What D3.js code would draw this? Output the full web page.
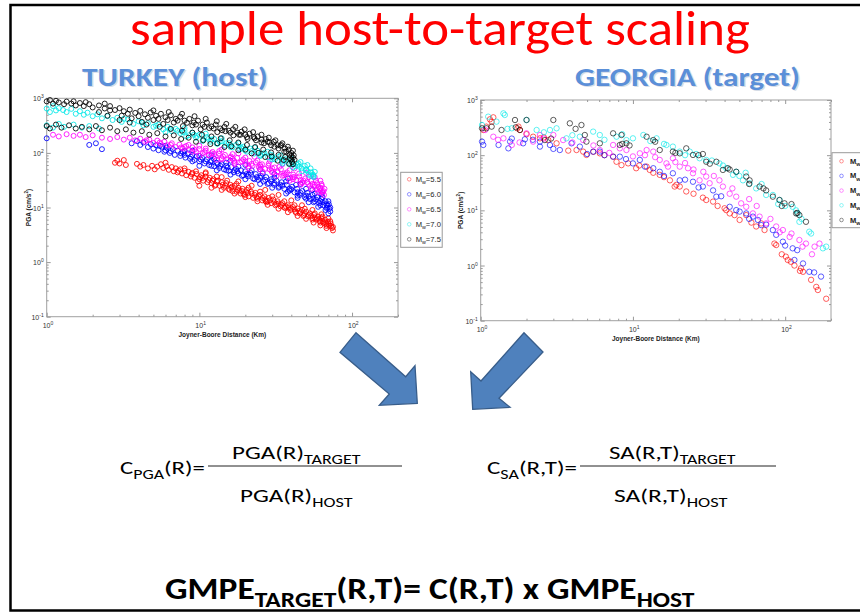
<!DOCTYPE html>
<html><head><meta charset="utf-8">
<script src="https://cdn.jsdelivr.net/npm/d3@7"></script>
<style>body{margin:0;background:#fff}svg{display:block}</style>
</head><body><svg id="c" width="860" height="612"></svg>
<script>
// ---------- DATA ----------
const magnitudes = ["5.5","6.0","6.5","7.0","7.5"];
const seriesColors = ["#ff0000","#0000ff","#ff00ff","#00e8e8","#000000"];
const xTickValues = [1,10,100];
const yTickValues = [0.1,1,10,100,1000];
const xTickExp = ["0","1","2"];
const yTickExp = ["-1","0","1","2","3"];

// TURKEY (host) : [Joyner-Boore distance km, PGA cm/s2]
const turkeyMw55 = [[2.8,66],[2.9,72],[3.0,64],[3.2,74],[3.3,60],[3.9,63],[4.1,56],[4.3,60],[4.6,52],[4.9,58],[5.1,50],[5.3,56],[5.6,62],[5.8,53],[6.0,66],[6.1,57],[6.3,49],[6.6,55],[6.8,46],[7.0,52],[7.2,44],[7.5,50],[7.7,42],[8.0,47],[8.2,39],[8.5,45],[8.8,37],[9.0,43],[9.3,35],[9.6,41],[10,33],[10.3,39],[10.6,31],[11,37],[11.3,29],[11.7,35],[12,28],[12.4,33],[12.8,26],[13.2,31],[13.6,25],[14,29],[14.5,23],[15,28],[15.5,22],[16,26],[16.5,20],[17,25],[17.5,19.5],[18,23],[18.6,18],[19.2,22],[19.8,17],[20.5,21],[21,16],[21.8,19.5],[22.5,15],[23.3,18.5],[24,14.5],[25,17],[25.8,13.5],[26.7,16],[27.5,12.5],[28.5,15],[29.5,12],[30.5,14],[31.5,11],[32.5,13],[34,10.5],[35,12],[36.5,9.8],[38,11],[39.5,9],[41,10.2],[42.5,8.4],[44,9.6],[45.5,7.8],[47,9],[48.5,7.3],[50,8.4],[51.5,6.9],[53,7.8],[55,6.4],[56.5,7.3],[58,6],[60,6.8],[61.5,5.6],[63,6.4],[65,5.2],[66.5,6],[68,4.9],[69.5,5.5],[71,4.6],[72.5,5.1],[74,4.2],[75,3.8],[10.5,35],[12.2,31],[14.2,26],[16.2,23],[18.3,20.5],[20.2,19],[23,17],[26,15],[29,13.5],[33,11.8],[37,10.4],[40,9.6],[45,8.6],[49,7.8],[54,7],[59,6.3],[64,5.7],[70,5],
  [7.3,47],[8.9,41],[10.1,36],[11.5,32],[13,30],[14.8,25],[16.3,24],[17.8,21],[19,20],[20.8,18.5],[22,18],[24.5,16],[27,14],[28,13],[31,12.5],[34.5,11.2],[38.5,10],[42,9.2],[46,8.2],[52,7.3],[57,6.6],[61,6],[67,5.3],[73,4.6],[9.8,30],[12.6,25],[15.8,21],[19.5,17.5],[23.7,15.5],[27.2,13],[32,11.5],[36,10],[43,8],[48,7],[55,6],[62,5.3],[68,4.6],[75,4.4],[8,52],[9.5,46],[11,42],[13,37],[15.2,31],[17.5,27],[21,23],[25,19.5],[30,16],[36,13],[42,11],[49,9.5],[57,7.8],[64,6.8],[72,5.6],
  [10,25],[12,23],[14,21],[17,18],[20,15.5],[24,13],[28,11.2],[33,9.5],[38,8.2],[44,7],[50,6.2],[56,5.3],[62,4.7],[68,4.2],[11,44],[14,36],[18,30],[22,25],[27,21],[33,17],[40,13.5],[47,11],[55,9],[63,7.5],[70,6.3]];
const turkeyMw60 = [[1.0,185],[1.9,140],[2.3,117],[2.1,150],[3.6,150],[3.9,165],[4.1,140],[4.3,155],[4.6,128],[4.8,145],[5.0,120],[5.2,138],[5.4,112],[5.7,130],[5.9,105],[6.1,125],[6.4,100],[6.7,118],[6.9,92],[7.2,110],[7.5,88],[7.8,104],[8.1,82],[8.4,98],[8.7,78],[9.0,92],[9.3,74],[9.6,86],[10,70],[10.4,82],[10.8,64],[11.2,76],[11.6,60],[12,72],[12.5,57],[13,66],[13.5,53],[14,62],[14.5,50],[15,58],[15.6,47],[16.2,55],[16.8,44],[17.4,51],[18,42],[18.7,48],[19.4,39],[20,46],[20.8,37],[21.6,43],[22.5,34],[23.4,41],[24.3,32],[25.3,38],[26.3,30],[27.4,36],[28.5,28],[29.6,33],[30.8,26],[32,31],[33.3,24],[34.6,29],[36,22],[37.4,26],[39,20.5],[40.5,24],[42,19],[43.7,22],[45.4,17],[47.2,20],[49,15.5],[51,18.5],[53,14.3],[55,17],[57,13],[59,15.5],[61,12],[63,14.2],[65,11],[67,13],[69,10],[70.5,11.5],[72,8.5],[71,9.5],[70,7.8],[6,112],[8,92],[11,70],[13.7,58],[17,48],[21,40],[25,35],[29.5,30],[34,26],[39,22],[44,19],[50,16.5],[56,14.5],[62,13],[68,11.5],
  [5.5,135],[6.5,108],[7.6,98],[8.8,85],[10.2,76],[11.8,68],[13.2,62],[15.3,54],[17.7,46],[20.4,41],[23.8,36],[27,32],[31,28],[35,25],[40,21.5],[46,18.5],[52,16],[58,14],[64,12.5],[69,11],[9,70],[12,58],[15,48],[19,38],[23,33],[28,27],[33,23],[38,19.5],[44,16.5],[50,14.5],[56,12.5],[62,11],[68,9.8],[72,10],[6,135],[8,108],[10,88],[12.5,78],[15,66],[18,56],[22,48],[26,42],[31,35],[37,30],[43,26],[50,22],[57,18],[64,15.5],[70,13],
  [10,58],[13,48],[16,40],[20,33],[25,27],[30,23],[37,18],[44,15],[52,12.5],[60,10.3],[67,9],[9,110],[12,90],[16,72],[20,60],[25,50],[31,41],[38,34],[46,27],[55,21],[63,17.5]];
const turkeyMw65 = [[1.1,215],[1.2,200],[1.35,220],[1.5,205],[1.65,215],[1.8,195],[2.0,210],[2.3,190],[2.6,180],[2.9,195],[3.2,175],[3.5,190],[3.8,170],[4.1,182],[4.4,160],[4.7,175],[5.0,152],[5.3,168],[5.6,145],[5.9,160],[6.2,138],[6.6,150],[7.0,128],[7.4,142],[7.8,120],[8.2,134],[8.6,112],[9.0,126],[9.5,106],[10,118],[10.5,98],[11,110],[11.6,92],[12.2,104],[12.8,86],[13.4,97],[14,80],[14.7,92],[15.4,76],[16.1,86],[16.9,71],[17.7,81],[18.5,67],[19.4,76],[20.3,62],[21.3,71],[22.3,58],[23.4,67],[24.5,55],[25.7,62],[27,51],[28.3,58],[29.7,47],[31.1,54],[32.6,44],[34.2,50],[35.8,39],[37.5,44],[39.3,35],[41.2,40],[43.1,32],[45.1,37],[47.2,29],[49.4,34],[51.7,27],[54,31],[56.5,24],[59,28],[61.5,22],[63.5,25],[65,20],[66,22],[65.5,17],[64,18.5],[62,20],[8,128],[12,98],[16,82],[20,70],[25,60],[30,52],[36,42],[42,36],[48,31],[55,27],[60,24],
  [4.5,170],[5.5,155],[6.5,140],[7.6,126],[9.3,115],[10.8,104],[12.5,95],[14.3,86],[16.5,78],[19,70],[22,63],[25.2,56],[28.8,50],[32.5,46],[36.8,40],[41,36],[46,32],[51,29],[57,26],[62,23],[9,105],[11.5,90],[14,76],[17,66],[21,57],[25,50],[30,44],[35,38],[41,33],[47,28],[53,25],[59,21.5],[64,19.5],[8.5,140],[11,120],[13.5,108],[16.5,95],[20,82],[24,72],[28.5,64],[33.5,56],[39,48],[45,42],[52,36],[58,31],[63,27],
  [10,88],[13,75],[17,62],[21,52],[26,45],[32,38],[39,31],[46,26],[54,22],[60,19],[10,135],[14,115],[18,98],[23,85],[29,72],[35,62],[42,52],[50,43],[57,36],[62,31]];
const turkeyMw70 = [[1.0,650],[1.05,560],[1.1,720],[1.15,600],[1.2,660],[1.28,610],[1.35,560],[1.45,640],[1.55,520],[1.65,580],[1.75,500],[1.85,545],[2.0,470],[2.15,510],[2.3,430],[2.5,470],[2.7,400],[2.9,440],[3.1,370],[3.4,410],[3.7,340],[4.0,380],[4.3,320],[4.6,350],[5.0,300],[5.4,330],[5.8,270],[6.2,300],[6.6,250],[7.0,275],[7.5,230],[8.0,255],[8.5,210],[9.0,235],[9.5,190],[10,215],[10.6,175],[11.2,195],[11.8,160],[12.5,180],[13.2,148],[14,165],[14.8,136],[15.6,152],[16.5,126],[17.4,140],[18.4,116],[19.4,130],[20.5,105],[21.6,120],[22.8,97],[24,110],[25.3,90],[26.7,100],[28.2,83],[29.7,92],[31.3,76],[33,84],[34.8,69],[36.6,77],[38.5,63],[40.5,70],[42.5,57],[44.6,64],[46.8,52],[49,58],[51.3,46],[53.5,52],[55.5,40],[57,45],[56,36],[54,38],[1.0,320],[1.1,290],[1.2,340],[1.3,300],[1.5,330],[1.7,290],[1.9,310],[2.2,280],[7.2,255],[9.2,215],[12,175],[15,150],[19,120],[24,100],[30,86],[37,72],[44,60],[50,50],
  [3.2,420],[4.2,360],[5.2,315],[6.4,275],[7.8,240],[9.6,205],[11.5,180],[13.6,160],[16,140],[18.8,124],[22,108],[25.8,95],[30,82],[35,72],[40,62],[45,56],[50,48],[54,44],[6,240],[8.2,200],[10.5,165],[13,148],[16,128],[20,110],[25,88],[30,76],[35,64],[41,54],[47,46],[52,40],[56,38],[8,285],[11,225],[14,185],[18,150],[23,125],[28,105],[34,90],[40,78],[46,68],[51,60]];
const turkeyMw75 = [[1.0,880],[1.05,930],[1.1,800],[1.15,900],[1.2,840],[1.3,780],[1.35,870],[1.45,800],[1.55,740],[1.65,820],[1.75,720],[1.9,780],[2.0,680],[2.2,740],[2.4,650],[2.6,720],[2.8,610],[3.0,660],[3.2,580],[3.5,620],[3.8,540],[4.1,590],[4.4,510],[4.8,550],[5.2,480],[5.6,520],[6.0,450],[6.5,490],[7.0,420],[7.5,460],[8.0,390],[8.6,420],[9.2,360],[9.8,390],[10.5,330],[11.2,360],[12,305],[12.8,330],[13.7,280],[14.6,300],[15.6,255],[16.6,270],[17.7,235],[18.9,245],[20,215],[21.3,225],[22.7,195],[24.1,200],[25.6,175],[27.2,180],[28.9,155],[30.7,160],[32.5,138],[34.4,140],[36.4,120],[38.5,115],[40,100],[41.5,90],[42,75],[2.5,480],[3.0,400],[3.6,430],[4.2,370],[5.0,400],[5.8,340],[6.8,360],[7.8,310],[9.0,320],[10.2,270],[11.6,285],[13.1,240],[14.8,250],[16.7,210],[18.6,215],[20.7,180],[23,185],[25.5,155],[28,160],[31,130],[34,135],[37,105],[40,88],[1.0,310],[1.05,280],[1.15,330],[1.25,290],[1.4,320],[1.55,280],[1.7,300],[1.9,270],[2.1,310],[2.3,260],[2.6,290],[2.9,250],[3.3,270],[3.7,235],[4.2,250],[4.7,215],[5.3,230],[6.0,200],[6.8,210],[7.6,180],[8.5,190],[9.5,160],[10.6,170],[11.8,145],[13.1,150],[14.6,128],[16.2,132],[18,112],[20,115],[22,98],[24.4,100],[27,84],[29.7,86],[32.6,72],[35.7,74],[38.8,63],[41,62],[40.5,68],[39,80],
  [3.4,520],[4.0,470],[4.6,440],[5.4,420],[6.2,400],[7.2,390],[8.3,355],[9.5,330],[10.8,300],[12.4,280],[14.1,260],[16,235],[18.2,215],[20.5,195],[23.5,170],[26.5,150],[29.5,138],[33,120],[36,105],[39,92],[41,82],[3.5,360],[4.5,330],[5.5,300],[6.5,275],[7.7,255],[9,235],[10.4,215],[12,200],[13.8,185],[15.8,170],[18,155],[20.5,140],[23.2,128],[26.2,115],[29.5,102],[33,92],[36.5,84],[40,76],[5,600],[6.3,560],[7.7,520],[9.3,470],[11,420],[13,380],[15,340],[17.2,300],[19.8,270],[22.5,240],[25.5,215],[28.5,190],[31.5,170],[35,150],[38,130],[41,110],[2.2,560],[2.6,600],[3.1,480],[1.5,880],[1.8,850],[2.4,800]];

// GEORGIA (target)
const georgiaMw55 = [[1.04,286],[1.09,329],[1.15,447],[1.18,405],[1.21,485],[1.74,307],[1.77,329],[1.81,286],[2.0,240],[2.21,216],[2.45,202],[2.6,210],[2.78,188],[3.15,164],[3.76,121],[4.26,124],[4.71,116],[4.95,101],[5.5,115],[6.06,108],[6.5,100],[7.41,94],[7.8,76],[8.41,66],[9.3,71],[10.5,58],[11,65],[12.3,62],[12.9,54],[13.6,48],[15,44],[16,40],[17.5,35],[18.8,27],[19.3,29],[20.3,27],[22.4,22],[25,20],[28.8,17],[30.3,15.4],[33.6,14.4],[36,12],[40,10.9],[41,10.1],[43.2,8.8],[46.5,8.2],[50.2,6.7],[55.5,8.2],[60,6],[64.5,5.1],[69.6,5.8],[73.2,4.4],[85,2.5],[87.3,2.35],[95,1.6],[101,1.45],[104,1.26],[109,1.17],[115,1.0],[125,0.8],[127,0.89],[131,0.77],[148,0.55],[160,0.41],[164,0.36],[186,0.25]];
const georgiaMw60 = [[1.02,176],[1.04,153],[1.31,153],[1.52,133],[1.56,176],[1.6,200],[1.9,164],[1.95,194],[2.2,190],[2.45,143],[2.45,176],[2.85,153],[3,130],[3.31,124],[3.95,164],[4.48,143],[5,105],[5.48,116],[6.06,116],[6.5,100],[7.41,94],[8.2,94],[9,85],[10,71],[11.1,82],[12,62],[13.6,58],[15,50],[16,42],[18.3,47],[20.3,35],[22,36],[24.8,33],[27,26],[28.8,27],[33.6,23],[35.3,17.7],[38,18],[43.2,11.6],[47.7,10.1],[50.2,9.5],[55.5,8.8],[58,7],[61.4,7.7],[66.2,6.7],[69.6,5.4],[75,5.5],[83,4.4],[87.3,3.6],[96.6,2.7],[100,2.3],[112,2.05],[115,1.26],[120,1.9],[131,1.09],[144,0.77],[155,0.75],[172,0.63]];
const georgiaMw65 = [[1.07,286],[1.21,216],[1.3,190],[1.41,202],[1.6,153],[1.8,170],[2.0,249],[2.21,176],[2.45,232],[2.6,200],[3.0,232],[3.48,188],[4,170],[4.71,188],[5.5,150],[6.06,124],[7,110],[7.41,153],[8.2,133],[9.06,124],[10,95],[11.1,108],[12,100],[12.3,124],[13.6,116],[14,92],[15,82],[16.6,71],[17,62],[18.3,88],[19,75],[20.3,62],[22,72],[23,58],[24.8,47],[25,55],[27.4,35],[29,50],[30.3,41],[31.9,31],[34,42],[37,35],[39,27],[43.2,20],[45,25],[47.7,17.7],[51.4,13.4],[55.5,11.6],[58,16],[61.4,8.8],[65,12],[67.9,7.7],[75,5.8],[80,7],[87.3,5.1],[92,4],[96.6,4.4],[107,3.3],[110,3.8],[124,2.9],[130,2.2],[137,2.5],[150,1.6],[156,2.2],[168,2.5]];
const georgiaMw70 = [[1.02,352],[1.12,499],[1.27,405],[1.41,573],[1.44,535],[1.5,300],[1.6,307],[2.0,434],[2.33,286],[2.6,260],[2.85,286],[3.15,307],[3.66,202],[4,230],[4.48,216],[5.48,267],[6.06,232],[6.5,190],[7.8,216],[8.5,240],[9.06,188],[10,202],[11.7,232],[13,180],[14.3,202],[16,160],[16.6,153],[18.3,143],[20.3,116],[22,100],[23.6,116],[26,105],[27.4,88],[30.3,82],[33,80],[37,71],[39,65],[41,58],[45.4,44],[47.7,50],[50,42],[52.8,35],[55,48],[58.4,31],[64.5,25],[70,30],[75,19],[83,19],[90,13],[91.8,15.4],[100,12],[112,11.6],[118,10],[121,8.8],[124,6.2],[128,7],[144,4.1],[148,3.8],[177,2.05],[186,2.2]];
const georgiaMw75 = [[1.02,307],[1.09,307],[1.18,329],[1.37,286],[1.68,434],[1.7,320],[1.81,286],[2.0,434],[2.64,188],[2.9,200],[3.0,434],[3.85,378],[4.2,300],[4.59,352],[4.83,232],[4.95,176],[6.06,164],[7.41,249],[8.2,153],[8.41,232],[8.5,160],[9.06,164],[9.5,150],[12.3,216],[13.6,188],[14,175],[15,124],[18.3,116],[19,110],[20.3,108],[22.4,133],[24.8,101],[27,100],[28.8,105],[30.3,76],[32,70],[35.3,76],[39,54],[42,58],[43.2,55],[47.7,50],[55.5,41],[58,30],[58.4,35],[67.9,27],[72,25],[75,23],[83,17.7],[91.8,15.4],[95,12],[99,13.4],[110,13],[118,8.8],[120,9],[124,8.2],[137,6.2]];

const turkeySeries = [turkeyMw55, turkeyMw60, turkeyMw65, turkeyMw70, turkeyMw75];
const georgiaSeries = [georgiaMw55, georgiaMw60, georgiaMw65, georgiaMw70, georgiaMw75];

// ---------- DRAW ----------
const svg = d3.select("#c");
const FONT = "Carlito, Calibri, Lato, 'Open Sans', sans-serif";
const SMALL = "'Liberation Sans', Arial, sans-serif";

function fitText(sel, xLeft, width) {
  const bb = sel.node().getBBox();
  const s = width / bb.width;
  sel.attr("transform", `translate(${xLeft},0) scale(${s},1) translate(${-bb.x},0)`);
}

// slide frame
svg.append("path").attr("d", "M860,5 H10.5 V610.5 H860")
  .attr("fill", "none").attr("stroke", "#000").attr("stroke-width", 2.5);

// title
const title = svg.append("text").attr("x", 0).attr("y", 45)
  .attr("font-family", FONT).attr("font-size", 50).attr("fill", "#ff0000")
  .text("sample host-to-target scaling");
fitText(title, 130, 620);

// panel titles
const blueTitle = "#5b8fd8";
[["TURKEY (host)", 82, 186], ["GEORGIA (target)", 575, 225]].forEach(([t, x0, w]) => {
  const sh = svg.append("text").attr("x", 0).attr("y", 87.5).attr("font-family", FONT)
    .attr("font-weight", "bold").attr("font-size", 27).attr("fill", "#bcc8d8").attr("opacity", 0.6).text(t);
  fitText(sh, x0 + 1.5, w);
  const tt = svg.append("text").attr("x", 0).attr("y", 86).attr("font-family", FONT)
    .attr("font-weight", "bold").attr("font-size", 27).attr("fill", blueTitle).text(t);
  fitText(tt, x0, w);
});

function drawPanel(cfg, seriesList) {
  const x = d3.scaleLog().domain([1, 200]).range([cfg.x0, cfg.x1]);
  const y = d3.scaleLog().domain([0.1, 1000]).range([cfg.y1, cfg.y0]);
  const g = svg.append("g");
  g.append("rect").attr("x", cfg.x0).attr("y", cfg.y0)
    .attr("width", cfg.x1 - cfg.x0).attr("height", cfg.y1 - cfg.y0)
    .attr("fill", "#fff").attr("stroke", "#a0a0a0").attr("stroke-width", 1);

  const xMinor = [], yMinor = [];
  [1, 10, 100].forEach(b => { for (let k = 1; k <= 9; k++) { const v = b * k; if (v <= 200) xMinor.push(v); } });
  [0.1, 1, 10, 100].forEach(b => { for (let k = 1; k <= 9; k++) yMinor.push(b * k); });
  yMinor.push(1000);
  const styleAxis = a => { a.select(".domain").remove(); a.selectAll("line").attr("stroke", "#999"); a.selectAll("text").remove(); };
  const minorX = xMinor.filter(v => !xTickValues.includes(v));
  const minorY = yMinor.filter(v => !yTickValues.includes(v));
  g.append("g").attr("transform", `translate(0,${cfg.y1})`).call(d3.axisBottom(x).tickValues(xTickValues).tickSize(-4)).call(styleAxis);
  g.append("g").attr("transform", `translate(0,${cfg.y1})`).call(d3.axisBottom(x).tickValues(minorX).tickSize(-2)).call(styleAxis);
  g.append("g").attr("transform", `translate(0,${cfg.y0})`).call(d3.axisTop(x).tickValues(xTickValues).tickSize(-4)).call(styleAxis);
  g.append("g").attr("transform", `translate(0,${cfg.y0})`).call(d3.axisTop(x).tickValues(minorX).tickSize(-2)).call(styleAxis);
  g.append("g").attr("transform", `translate(${cfg.x0},0)`).call(d3.axisLeft(y).tickValues(yTickValues).tickSize(-4)).call(styleAxis);
  g.append("g").attr("transform", `translate(${cfg.x0},0)`).call(d3.axisLeft(y).tickValues(minorY).tickSize(-2)).call(styleAxis);
  g.append("g").attr("transform", `translate(${cfg.x1},0)`).call(d3.axisRight(y).tickValues(yTickValues).tickSize(-4)).call(styleAxis);
  g.append("g").attr("transform", `translate(${cfg.x1},0)`).call(d3.axisRight(y).tickValues(minorY).tickSize(-2)).call(styleAxis);

  // tick labels
  xTickValues.forEach((v, i) => {
    const t = g.append("text").attr("x", x(v) - 4).attr("y", cfg.y1 + 11)
      .attr("font-family", SMALL).attr("font-size", 7).attr("fill", "#333").text("10");
    t.append("tspan").attr("dy", -3).attr("font-size", 5).text(xTickExp[i]);
  });
  yTickValues.forEach((v, i) => {
    const t = g.append("text").attr("x", cfg.x0 - 3).attr("y", y(v) + 3)
      .attr("text-anchor", "end").attr("font-family", SMALL).attr("font-size", 7).attr("fill", "#333").text("10");
    t.append("tspan").attr("dy", -3).attr("font-size", 5).text(yTickExp[i]);
  });

  // axis titles
  g.append("text").attr("x", (cfg.x0 + cfg.x1) / 2).attr("y", cfg.xLabelY)
    .attr("text-anchor", "middle").attr("font-family", SMALL).attr("font-weight", "bold")
    .attr("font-size", 6.5).attr("fill", "#222").text("Joyner-Boore Distance (Km)");
  const yl = g.append("text").attr("transform", `translate(${cfg.yLabelX},${(cfg.y0 + cfg.y1) / 2}) rotate(-90)`)
    .attr("text-anchor", "middle").attr("font-family", SMALL).attr("font-weight", "bold")
    .attr("font-size", 6.5).attr("fill", "#222");
  yl.append("tspan").text("PGA (cm/s");
  yl.append("tspan").attr("dy", -3).attr("font-size", 4.5).text("2");
  yl.append("tspan").attr("dy", 3).text(")");

  // points
  seriesList.forEach((data, si) => {
    g.append("g").selectAll("circle").data(data).join("circle")
      .attr("cx", d => x(d[0])).attr("cy", d => y(d[1])).attr("r", cfg.r)
      .attr("fill", "none").attr("stroke", seriesColors[si])
      .attr("stroke-width", cfg.sw).attr("stroke-opacity", cfg.op);
  });

  // legend
  const L = cfg.legend;
  g.append("rect").attr("x", L.x).attr("y", L.y).attr("width", L.w).attr("height", L.h)
    .attr("fill", "#fff").attr("stroke", "#999").attr("stroke-width", 1);
  magnitudes.forEach((m, i) => {
    const yy = L.y + L.first + i * L.step;
    g.append("circle").attr("cx", L.x + L.mx).attr("cy", yy).attr("r", 1.8)
      .attr("fill", "none").attr("stroke", seriesColors[i]).attr("stroke-width", 0.7).attr("stroke-opacity", 0.6);
    const t = g.append("text").attr("x", L.x + L.tx).attr("y", yy + 2.5)
      .attr("font-family", SMALL).attr("font-size", L.fs).attr("font-weight", L.bold ? "bold" : "normal")
      .attr("fill", "#222").text("M");
    t.append("tspan").attr("dy", 2.5).attr("font-size", L.fs * 0.7).text("w");
    t.append("tspan").attr("dy", -2.5).text("=" + m);
  });
}

drawPanel({x0: 46.7, x1: 398, y0: 98.3, y1: 316.7, r: 2.5, sw: 1, op: 0.85,
  xLabelY: 337, yLabelX: 31,
  legend: {x: 400.7, y: 172.3, w: 41.5, h: 75, first: 7, step: 15, mx: 8.5, tx: 15, fs: 7.6, bold: false}},
  turkeySeries);
drawPanel({x0: 480.7, x1: 831, y0: 100, y1: 320.7, r: 2.7, sw: 0.9, op: 0.7,
  xLabelY: 341, yLabelX: 463,
  legend: {x: 832, y: 152.7, w: 40, h: 75, first: 8.5, step: 14.7, mx: 9.5, tx: 18, fs: 7.5, bold: true}},
  georgiaSeries);

// arrows
const arrowLeft = [[356,332.7],[405.7,376.7],[415,365.7],[417.3,403.3],[379.3,405.3],[389.3,394],[340,352.3]];
const arrowRight = [[524,332.7],[481,381],[470.7,371.7],[472.7,409.3],[510,407.3],[499,398.3],[543,352]];
[arrowLeft, arrowRight].forEach(pts => {
  svg.append("path").attr("d", d3.line()(pts) + "Z")
    .attr("fill", "#4f81bd").attr("stroke", "#385d8a").attr("stroke-width", 1.3);
});

// formulas
function formula(parts, baseY, fs, xLeft, width, bold) {
  const t = svg.append("text").attr("x", 0).attr("y", baseY)
    .attr("font-family", FONT).attr("font-size", fs).attr("fill", "#000")
    .attr("font-weight", bold ? "bold" : "normal");
  let cur = 0;
  parts.forEach(([txt, sub]) => {
    const off = sub ? fs * 0.28 : 0;
    t.append("tspan").attr("dy", off - cur).attr("font-size", sub ? fs * 0.72 : fs).text(txt);
    cur = off;
  });
  fitText(t, xLeft, width);
  return t;
}
formula([["C"],["PGA",1],["(R)="]], 474, 19, 120, 85);
formula([["PGA(R)"],["TARGET",1]], 459, 19, 232, 129);
formula([["PGA(R)"],["HOST",1]], 502, 19, 240, 113);
formula([["C"],["SA",1],["(R,T)="]], 474, 19, 487, 90);
formula([["SA(R,T)"],["TARGET",1]], 459, 19, 609, 127);
formula([["SA(R,T)"],["HOST",1]], 502, 19, 614, 114);
svg.append("line").attr("x1", 208).attr("x2", 402).attr("y1", 466).attr("y2", 466).attr("stroke", "#222").attr("stroke-width", 1);
svg.append("line").attr("x1", 580).attr("x2", 776).attr("y1", 466).attr("y2", 466).attr("stroke", "#222").attr("stroke-width", 1);
formula([["GMPE"],["TARGET",1],["(R,T)= C(R,T) x GMPE"],["HOST",1]], 599, 30, 165, 530, true);
</script></body></html>
